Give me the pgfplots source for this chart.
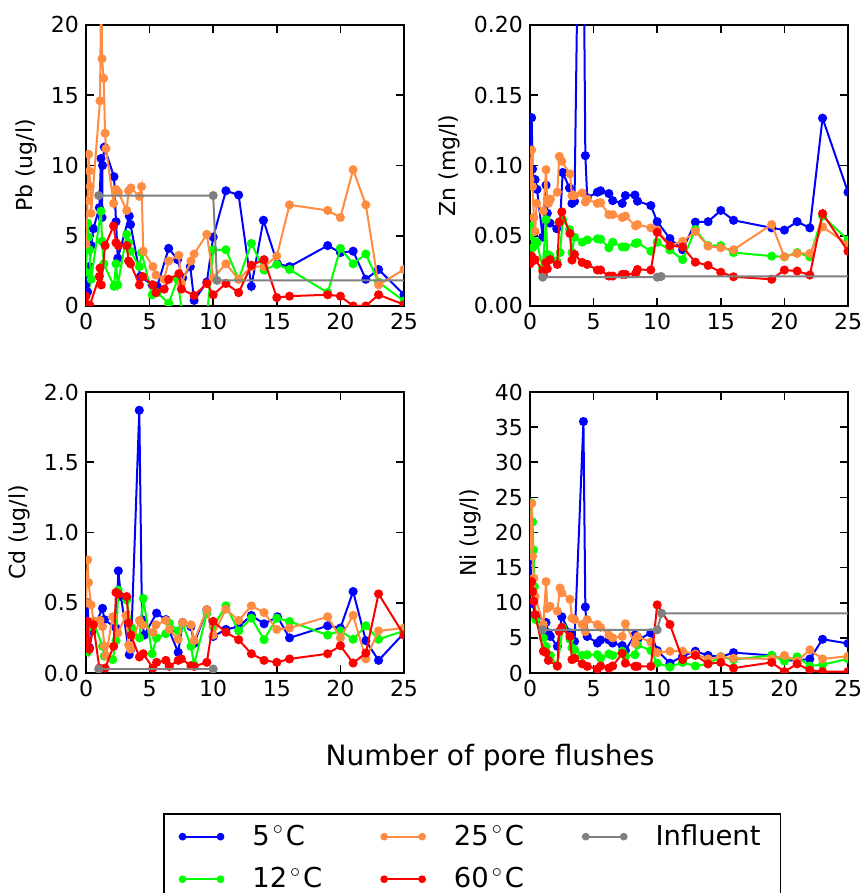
\documentclass[border=0pt]{standalone}
\usepackage{fontspec}
\setmainfont{DejaVu Sans}
\usepackage{pgfplots}
\pgfplotsset{compat=1.18}

\definecolor{cfive}{RGB}{0,0,255}
\definecolor{ctwelve}{RGB}{0,255,0}
\definecolor{ctwentyfive}{RGB}{255,140,64}
\definecolor{csixty}{RGB}{255,0,0}
\definecolor{cinf}{RGB}{128,128,128}

\pgfplotsset{
  ser/.style={color=#1, line width=1pt, mark=*, mark size=1.75pt, mark options={solid}},
  panel/.style={
    scale only axis, width=159pt, height=140.5pt, anchor=south west,
    xmin=0, xmax=25, xtick={0,5,10,15,20,25},
    tick align=inside, major tick length=4pt,
    axis line style={line width=1pt},
    every tick/.style={black, line width=0.8pt},
    tick label style={font=\fontsize{11}{13}\selectfont},
    ylabel style={font=\fontsize{11}{13}\selectfont},
    /pgf/number format/assume math mode=true,
    clip marker paths=true,
  },
}
\newcommand{\degC}[1]{#1\kern1.5pt$^\circ$\kern1pt C}

\begin{document}
\begin{tikzpicture}
\useasboundingbox (0,0) rectangle (431pt,446.5pt);

% Pb
\begin{axis}[panel, at={(43pt,293.5pt)}, ymin=0, ymax=20, ytick={0,5,10,15,20}, ylabel={Pb (ug/l)}]
\addplot[ser=cfive] coordinates {(0,1.5)(0.13,1.0)(0.2,2.1)(0.27,2.8)(0.4,4.3)(0.58,5.5)(1.05,7.0)(1.18,10.5)(1.26,6.3)(1.3,10.0)(1.44,11.3)(2.2,9.2)(2.36,6.0)(2.5,3.4)(3.4,6.4)(3.5,5.8)(4.27,2.1)(5.2,1.5)(5.6,1.4)(6.5,4.1)(7.2,3.3)(7.6,2.0)(8.2,2.8)(8.5,0.4)(9.5,1.7)(10,4.9)(11,8.2)(12,7.9)(13,1.4)(13.95,6.1)(15.05,3.0)(16,2.8)(19,4.3)(20,3.8)(21,3.9)(22,1.9)(23,2.6)(25,0.8)};
\addplot[ser=ctwelve] coordinates {(0,2.4)(0.13,5.9)(0.2,4.9)(0.27,4.0)(0.4,1.9)(1.18,6.75)(1.26,4.6)(1.4,3.0)(2.2,1.4)(2.36,3.0)(2.5,1.5)(3.2,5.1)(3.35,4.5)(3.5,3.9)(4.2,2.8)(4.37,3.8)(5.2,0.8)(5.6,0.95)(6.5,0.2)(7.2,1.9)(7.6,-0.8)(9.5,-0.8)(10,4.0)(11,4.0)(12,1.9)(13,4.45)(14,2.55)(15,2.96)(16,2.6)(19,0.95)(20,4.1)(21,3.0)(22,3.7)(23,1.7)(25,0.35)};
\addplot[ser=ctwentyfive] coordinates {(0,4.4)(0.13,7.5)(0.2,10.8)(0.27,9.6)(0.33,8.5)(0.4,6.6)(1.1,14.6)(1.2,24)(1.26,17.6)(1.39,16.2)(1.5,12.3)(1.57,11.2)(2.17,7.3)(2.36,8.3)(2.54,8.1)(3.2,6.8)(3.35,8.2)(3.53,8.4)(4.2,7.8)(4.37,8.5)(4.5,3.9)(5.26,2.8)(5.5,2.2)(6.15,1.9)(6.5,3.2)(7.3,3.6)(7.5,1.6)(8.25,3.2)(8.5,3.7)(9.5,5.1)(10,2.0)(11,3.0)(12,1.9)(13,2.8)(14,2.8)(15,3.55)(16,7.2)(19,6.8)(20,6.3)(21,9.7)(22,7.2)(23,1.5)(25,2.6)};
\addplot[ser=csixty] coordinates {(0,0.7)(0.13,0.1)(0.3,0.05)(1.05,2.1)(1.1,2.7)(1.2,1.5)(1.5,4.3)(2.17,5.7)(2.36,4.5)(2.54,4.3)(3.2,4.3)(3.35,3.2)(3.5,3.0)(4.2,1.5)(4.45,2.1)(5.26,1.5)(5.5,0.95)(6.15,1.2)(6.5,1.9)(7.3,2.3)(7.5,1.2)(8.5,0.75)(9.5,1.6)(10,0.8)(11,1.6)(12,0.95)(13,2.9)(14,3.3)(15,0.6)(16,0.7)(19,0.8)(20,0.7)(21,0)(22,0)(23,0.8)(25,0.1)};
\addplot[ser=cinf] coordinates {(1.0,7.86)(10,7.86)(10.3,1.82)(30,1.82)};
\end{axis}

% Zn
\begin{axis}[panel, at={(265pt,293.5pt)}, ymin=0, ymax=0.2, ytick={0,0.05,0.1,0.15,0.2}, ylabel={Zn (mg/l)},
  yticklabel style={/pgf/number format/fixed, /pgf/number format/fixed zerofill, /pgf/number format/precision=2}]
\addplot[ser=cfive] coordinates {(0,0.112)(0.13,0.134)(0.2,0.0975)(0.3,0.085)(0.4,0.09)(0.55,0.083)(1.0,0.049)(1.26,0.086)(1.36,0.066)(1.57,0.059)(2.1,0.055)(2.36,0.060)(2.57,0.095)(3.1,0.084)(3.3,0.073)(3.5,0.0745)(4.05,0.45)(4.35,0.107)(4.5,0.077)(5.3,0.081)(5.55,0.082)(6.2,0.080)(6.5,0.075)(7.25,0.073)(7.5,0.0786)(8.25,0.079)(8.45,0.0746)(9.5,0.0715)(10,0.060)(11,0.048)(12,0.040)(13,0.0597)(14,0.060)(15,0.068)(16,0.061)(19,0.0556)(20,0.054)(21,0.060)(22,0.0556)(23,0.1337)(25,0.081)};
\addplot[ser=ctwelve] coordinates {(0,0.05)(0.13,0.0568)(0.2,0.0414)(0.4,0.046)(0.55,0.045)(1.0,0.027)(1.26,0.0615)(1.36,0.0367)(1.57,0.0355)(2.1,0.032)(2.36,0.038)(2.57,0.0615)(3.1,0.0544)(3.3,0.038)(3.5,0.049)(4.1,0.0454)(4.5,0.047)(5.3,0.0478)(5.55,0.0475)(6.2,0.0414)(6.5,0.0454)(7.25,0.042)(7.5,0.042)(8.3,0.0445)(8.45,0.045)(9.5,0.039)(10,0.0454)(11,0.0398)(12,0.033)(13,0.0544)(14,0.043)(15,0.043)(16,0.038)(19,0.0355)(20,0.035)(21,0.038)(22,0.035)(23,0.064)(25,0.047)};
\addplot[ser=ctwentyfive] coordinates {(0,0.09)(0.13,0.111)(0.2,0.085)(0.3,0.063)(0.4,0.053)(0.52,0.073)(1.05,0.0675)(1.26,0.097)(1.36,0.076)(1.45,0.073)(1.6,0.076)(2.15,0.081)(2.3,0.1065)(2.5,0.103)(3.14,0.094)(3.3,0.0786)(3.5,0.0786)(4.1,0.0805)(4.35,0.074)(4.5,0.076)(5.3,0.073)(5.55,0.0735)(6.2,0.065)(6.5,0.065)(7.25,0.063)(7.5,0.064)(8.3,0.057)(8.45,0.058)(9.5,0.0556)(10,0.054)(11,0.043)(12,0.046)(13,0.053)(14,0.0426)(15,0.0414)(16,0.040)(19,0.058)(20,0.035)(21,0.0374)(22,0.0374)(23,0.0563)(25,0.0438)};
\addplot[ser=csixty] coordinates {(0,0.03)(0.13,0.0355)(0.2,0.032)(0.4,0.033)(1.0,0.025)(1.05,0.022)(1.26,0.031)(1.36,0.0265)(1.57,0.033)(2.15,0.0296)(2.3,0.0597)(2.5,0.067)(3.14,0.0516)(3.3,0.0327)(3.5,0.0367)(4.1,0.031)(4.5,0.0296)(5.3,0.0256)(5.55,0.0256)(6.2,0.0213)(6.5,0.0213)(7.25,0.0225)(7.5,0.0225)(8.3,0.023)(8.45,0.026)(9.5,0.0256)(10,0.0525)(11,0.043)(12,0.042)(13,0.0312)(14,0.0289)(15,0.024)(16,0.0208)(19,0.019)(20,0.0256)(21,0.0249)(22,0.022)(23,0.0658)(25,0.039)};
\addplot[ser=cinf] coordinates {(1.0,0.0205)(10,0.0205)(10.3,0.021)(30,0.021)};
\end{axis}

% Cd
\begin{axis}[panel, at={(43pt,110pt)}, ymin=0, ymax=2, ytick={0,0.5,1,1.5,2}, ylabel={Cd (ug/l)},
  yticklabel style={/pgf/number format/fixed, /pgf/number format/fixed zerofill, /pgf/number format/precision=1}]
\addplot[ser=cfive] coordinates {(0,0.3)(0.13,0.5)(0.27,0.18)(0.5,0.3)(1.3,0.46)(1.44,0.38)(2.36,0.32)(2.54,0.727)(2.75,0.544)(3.4,0.13)(3.53,0.17)(4.19,1.87)(4.4,0.38)(4.58,0.27)(5.55,0.426)(6.28,0.38)(6.55,0.3)(7.25,0.147)(7.6,0.36)(8.25,0.33)(8.5,0.21)(9.5,0.45)(10,0.26)(11,0.31)(12,0.33)(13,0.41)(14,0.35)(15.05,0.40)(16,0.25)(19,0.336)(20,0.32)(21,0.58)(22,0.23)(23,0.09)(25,0.284)};
\addplot[ser=ctwelve] coordinates {(0,0.25)(0.13,0.15)(0.27,0.33)(0.6,0.36)(1.3,0.19)(1.44,0.12)(2.1,0.095)(2.36,0.23)(2.54,0.59)(3.2,0.52)(3.6,0.32)(4.2,0.25)(4.5,0.53)(5.2,0.137)(5.55,0.25)(6.28,0.28)(6.55,0.355)(7.25,0.30)(7.6,0.35)(8.25,0.19)(8.5,0.06)(9.5,0.426)(10,0.33)(11,0.478)(12,0.30)(13,0.39)(14,0.237)(15,0.39)(16,0.367)(19,0.27)(20,0.30)(21,0.24)(22,0.336)(23,0.24)(25,0.30)};
\addplot[ser=ctwentyfive] coordinates {(0,0.5)(0.13,0.805)(0.2,0.644)(0.4,0.485)(0.6,0.37)(1.1,0.374)(1.3,0.33)(1.45,0.19)(1.57,0.123)(2.1,0.40)(2.5,0.284)(3.14,0.41)(3.35,0.2)(3.5,0.17)(4.2,0.374)(4.45,0.343)(5.26,0.29)(5.5,0.343)(6.28,0.374)(6.55,0.31)(7.25,0.24)(7.6,0.36)(8.25,0.343)(8.5,0.23)(9.5,0.45)(10,0.27)(11,0.454)(12,0.374)(13,0.478)(14,0.43)(15,0.31)(16,0.32)(19,0.40)(20,0.25)(21,0.41)(22,0.1)(23,0.30)(25,0.32)};
\addplot[ser=csixty] coordinates {(0,0.2)(0.13,0.367)(0.27,0.17)(0.58,0.343)(1.05,0.035)(1.5,0.035)(2.17,0.19)(2.36,0.573)(2.54,0.563)(3.2,0.544)(3.35,0.355)(3.53,0.27)(4.2,0.114)(4.5,0.137)(5.26,0.035)(5.55,0.076)(6.28,0.09)(6.55,0.047)(7.25,0.09)(7.5,0.1)(8.25,0.052)(8.5,0.047)(9.5,0.076)(10,0.367)(11,0.29)(12,0.237)(13,0.137)(14,0.09)(15,0.076)(16,0.1)(19,0.137)(20,0.194)(21,0.071)(22,0.142)(23,0.563)(25,0.27)};
\addplot[ser=cinf] coordinates {(1.0,0.028)(10,0.028)};
\end{axis}

% Ni
\begin{axis}[panel, at={(265pt,110pt)}, ymin=0, ymax=40, ytick={0,5,10,15,20,25,30,35,40}, ylabel={Ni (ug/l)}]
\addplot[ser=cfive] coordinates {(0,16)(0.13,13.3)(0.2,9.9)(0.4,8.3)(0.55,8.0)(1.05,5.9)(1.26,7.2)(1.44,5.7)(1.6,5.2)(2.15,3.8)(2.5,8.0)(3.14,5.7)(3.5,4.5)(4.2,35.8)(4.35,9.4)(4.5,5.2)(5.3,4.26)(5.55,4.7)(6.2,4.7)(6.5,4.26)(7.25,3.9)(7.5,3.2)(8.25,5.4)(8.45,4.7)(9.5,5.7)(10,3.2)(11,1.4)(12,2.4)(13,3.1)(14,2.5)(15,2.3)(16,2.9)(19,2.5)(20,1.8)(21,1.8)(22,2.0)(23,4.8)(25,4.2)};
\addplot[ser=ctwelve] coordinates {(0,20)(0.13,24.2)(0.2,21.5)(0.27,17.5)(0.35,12.3)(0.45,7.6)(1.05,5.0)(1.26,3.8)(1.6,2.5)(2.15,1.0)(2.57,6.5)(3.14,4.8)(3.3,3.6)(3.5,3.3)(4.1,2.5)(4.5,2.6)(5.3,2.6)(5.55,2.1)(6.2,2.7)(6.5,2.5)(7.25,3.1)(7.5,2.4)(8.25,2.6)(8.45,4.0)(9.5,3.2)(10,1.4)(11,0.85)(12,1.5)(13,1.0)(14,1.3)(15,2.3)(16,1.9)(19,2.5)(20,1.7)(21,2.3)(22,1.0)(23,1.2)(25,2.0)};
\addplot[ser=ctwentyfive] coordinates {(0,18)(0.13,24.1)(0.2,16.6)(0.3,13.5)(0.4,10.9)(1.05,6.9)(1.26,13.0)(1.36,9.2)(1.57,9.5)(2.15,8.8)(2.36,12.1)(2.5,11.4)(3.14,10.5)(3.3,7.8)(3.5,7.6)(4.1,6.9)(4.35,5.9)(4.5,7.6)(5.3,6.9)(5.55,6.5)(6.2,5.4)(6.5,5.0)(7.25,5.2)(7.5,7.0)(8.25,4.2)(8.45,5.2)(9.5,4.4)(10,2.9)(11,3.1)(12,3.1)(13,2.7)(14,2.0)(15,2.3)(16,2.1)(19,2.0)(20,2.5)(21,1.7)(22,3.3)(23,2.0)(25,2.4)};
\addplot[ser=csixty] coordinates {(0,12)(0.13,13.0)(0.2,11.6)(0.3,10.2)(0.4,8.3)(1.05,3.1)(1.26,2.9)(1.44,1.8)(2.15,1.0)(2.3,5.9)(2.5,6.5)(3.14,5.2)(3.3,1.9)(3.5,2.1)(4.1,1.3)(4.5,0.95)(5.3,0.57)(5.55,1.0)(6.2,0.7)(6.5,1.0)(7.25,2.8)(7.5,1.4)(8.25,0.95)(8.45,0.95)(9.5,0.95)(10,9.7)(11,6.9)(12,1.9)(13,2.5)(14,1.3)(15,1.5)(16,0.7)(19,1.5)(20,0.2)(21,1.3)(22,0.4)(23,0.2)(25,0.2)};
\addplot[ser=cinf] coordinates {(1.0,6.15)(10,6.15)(10.35,8.5)(30,8.5)};
\end{axis}

\node[font=\fontsize{14}{17}\selectfont] at (245pt,67.5pt) {Number of pore flushes};

% legend
\begin{axis}[hide axis, scale only axis, width=10pt, height=10pt, at={(81.5pt,40pt)}, anchor=north west,
  xmin=0, xmax=1, ymin=0, ymax=1, legend columns=3, legend cell align=left,
  legend image code/.code={\draw[#1, mark size=1.4pt] plot coordinates {(0pt,0pt) (19pt,0pt)};},
  legend style={at={(0,1)}, anchor=north west, draw=black, line width=0.75pt, fill=white,
    inner xsep=8pt, inner ysep=3.5pt, row sep=5.5pt,
    font=\fontsize{13.7}{16}\selectfont,
    /tikz/every odd column/.append style={column sep=12.5pt},
    /tikz/every even column/.append style={column sep=27.5pt}}]
\addlegendimage{ser=cfive}\addlegendentry{\degC{5}}
\addlegendimage{ser=ctwentyfive}\addlegendentry{\degC{25}}
\addlegendimage{ser=cinf}\addlegendentry{Influent}
\addlegendimage{ser=ctwelve}\addlegendentry{\degC{12}}
\addlegendimage{ser=csixty}\addlegendentry{\degC{60}}
\end{axis}
\end{tikzpicture}
\end{document}
